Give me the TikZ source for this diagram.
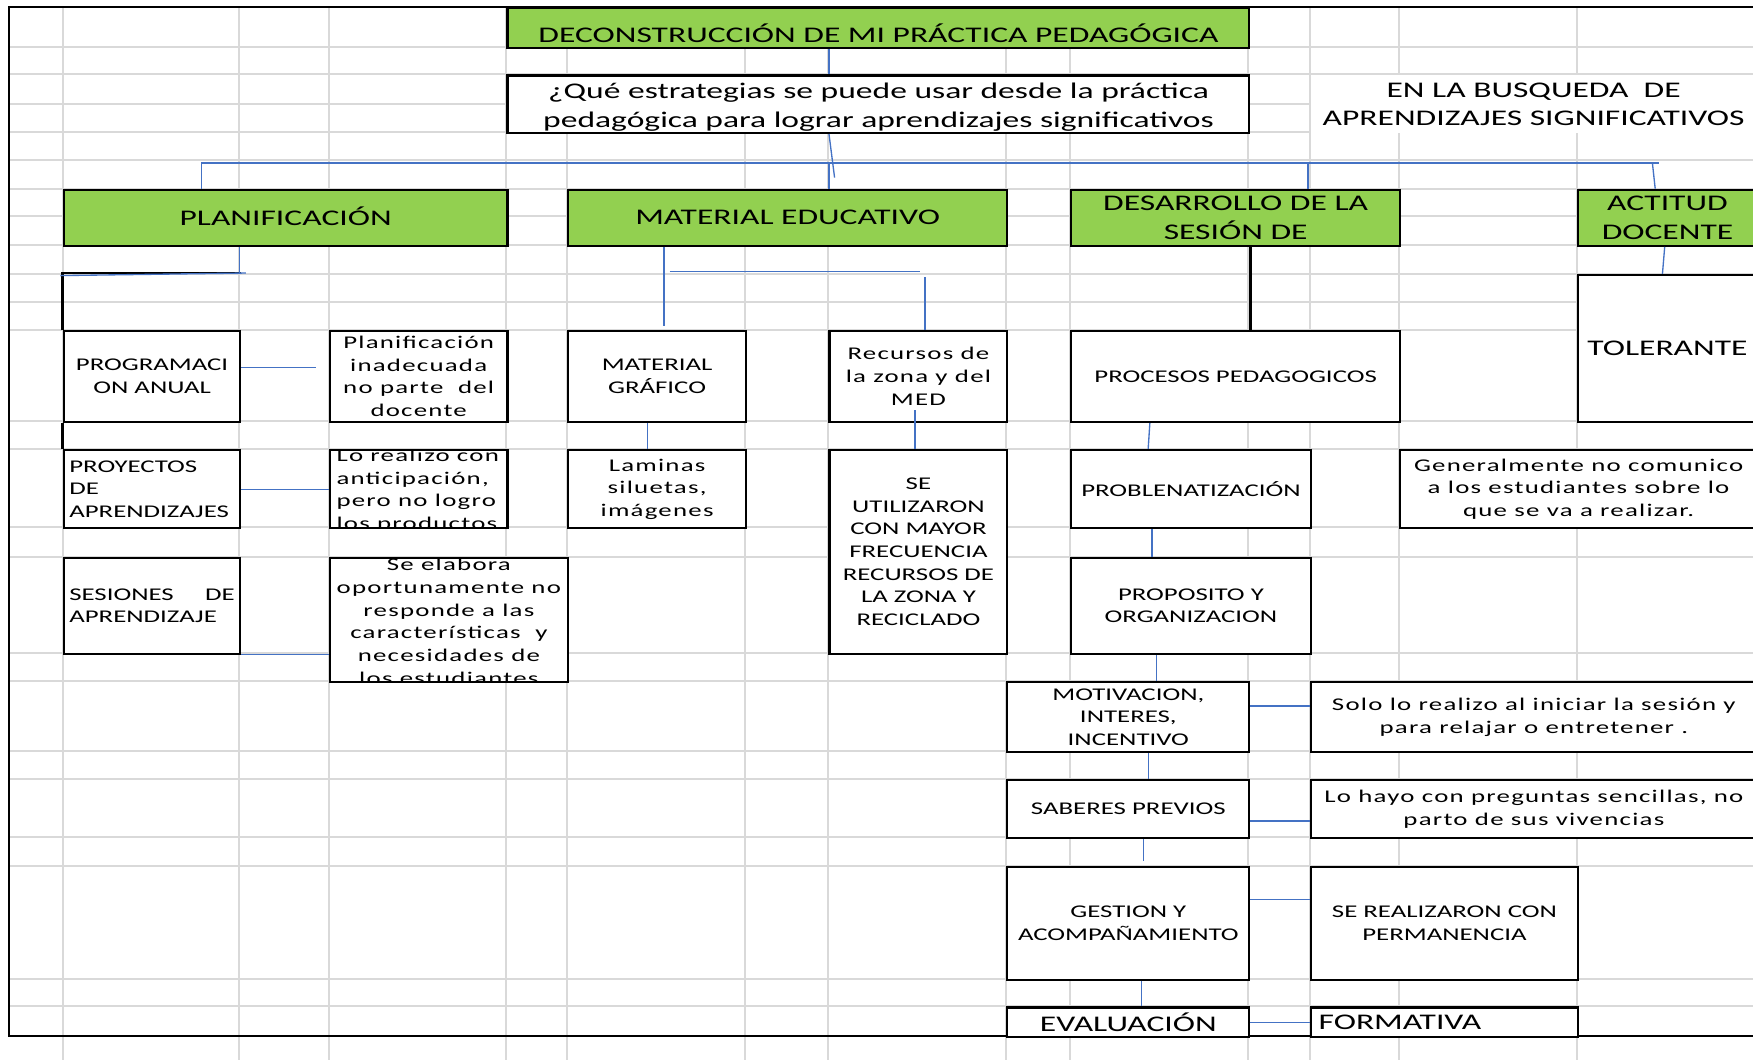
\documentclass[tikz,border=0pt]{standalone}
\usepackage{fontspec}
\setmainfont{Carlito}[FakeStretch=1.5]
\newfontfamily\spfont{Carlito}[FakeStretch=1.5,LetterSpace=7]
\newcommand\bigtxt{\fontsize{20}{25.5}\selectfont}
\newcommand\smalltxt{\fontsize{16}{20.3}\selectfont}
\definecolor{headgreen}{HTML}{92D050}
\definecolor{linkblue}{HTML}{4472C4}
\definecolor{gridgray}{HTML}{D9D9D9}

\begin{document}
\begin{tikzpicture}[x=1pt,y=-1pt,
  cell/.style={draw,line width=2pt,fill=white,inner sep=0pt,align=center,anchor=north west,font=\smalltxt},
  head/.style={cell,fill=headgreen,font=\bigtxt},
  spaced/.style={font=\spfont\smalltxt},
  cliptext/.style={spaced,draw=none,fill=none,inner sep=0pt,minimum width=0pt,minimum height=0pt},
  link/.style={draw=linkblue,line width=1.2pt},
  border/.style={line width=2pt},
  gridline/.style={draw=gridgray,line width=1.8pt}]
\useasboundingbox (0,0) rectangle (1568,948);
\clip (0,0) rectangle (1568,948);
% hoja de calculo
\foreach \y in {41.7,66.5,92.8,117.9,143,168.7,193.5,218.9,244.9,270,294.8,376.4,401.5,471.6,498.2,583.7,609.1,671.7,696.8,748.5,774.2,875.4,900.2}
  \draw[gridline] (8,\y) -- (1568,\y);
\foreach \x in {56,214,294,453,507,666.5,741,900,957,1116.5,1171.5,1251.5,1410.5}
  \draw[gridline] (\x,6) -- (\x,948);
\draw[border] (1580,6) -- (8,6) -- (8,926.5) -- (1580,926.5);

\node[head,minimum width=663.5pt,minimum height=35.7pt,text height=26pt,text depth=0pt] (title) at (453,6) {DECONSTRUCCIÓN DE MI PRÁCTICA PEDAGÓGICA};
\node[cell,font=\bigtxt,minimum width=663.5pt,minimum height=51.4pt,text height=45pt] (quest) at (453,66.5) {¿Qué estrategias se puede usar desde la práctica\\pedagógica para lograr aprendizajes significativos};
\node[cell,draw=none,font=\bigtxt,minimum width=398.5pt,minimum height=51.4pt] (search) at (1171.5,66.5) {EN LA BUSQUEDA \ DE\\APRENDIZAJES SIGNIFICATIVOS};

\node[head,minimum width=397pt,minimum height=50.2pt,text height=13pt,text depth=0pt] (plan) at (56,168.7) {PLANIFICACIÓN};
\node[head,minimum width=393pt,minimum height=50.2pt] (mat) at (507,168.7) {MATERIAL EDUCATIVO};
\node[head,minimum width=294.5pt,minimum height=50.2pt] (ses) at (957,168.7) {DESARROLLO DE LA\\SESIÓN DE};
\node[head,minimum width=160pt,minimum height=50.2pt] (act) at (1410.5,168.7) {ACTITUD\\DOCENTE};

% planificacion
\node[cell,minimum width=158pt,minimum height=81.6pt] (prog) at (56,294.8) {PROGRAMACI\\ON ANUAL};
\node[cell,spaced,minimum width=159pt,minimum height=81.6pt] (planif) at (294,294.8) {Planificación\\inadecuada\\no parte \ del\\docente};
\node[cell,minimum width=158pt,minimum height=70.1pt,align=left,text width=148pt,inner xsep=5pt] (proy) at (56,401.5) {PROYECTOS\\DE\\APRENDIZAJES};
\node[cell,minimum width=159pt,minimum height=70.1pt,
  path picture={\node[cliptext,align=left,anchor=west] at ([xshift=5pt,yshift=-1.5pt]path picture bounding box.west) {Lo realizo con\\anticipación,\\pero no logro\\los productos};}] (loreal) at (294,401.5) {};
\node[cell,minimum width=158pt,minimum height=85.5pt,align=left,text width=148pt,inner xsep=5pt] (sesap) at (56,498.2) {SESIONES\hfill DE\\APRENDIZAJE};
\node[cell,minimum width=213pt,minimum height=110.9pt,
  path picture={\node[cliptext,align=center,anchor=center] at ([yshift=-1.25pt]path picture bounding box.center) {Se elabora\\oportunamente no\\responde a las\\características \ y\\necesidades de\\los estudiantes};}] (selab) at (294,498.2) {};

% material
\node[cell,minimum width=159.5pt,minimum height=81.6pt] (mgraf) at (507,294.8) {MATERIAL\\GRÁFICO};
\node[cell,spaced,minimum width=159pt,minimum height=81.6pt] (recur) at (741,294.8) {Recursos de\\la zona y del\\MED};
\node[cell,spaced,minimum width=159.5pt,minimum height=70.1pt] (lamin) at (507,401.5) {Laminas\\siluetas,\\imágenes};
\node[cell,minimum width=159pt,minimum height=182.2pt] (seut) at (741,401.5) {SE\\UTILIZARON\\CON MAYOR\\FRECUENCIA\\RECURSOS DE\\LA ZONA Y\\RECICLADO};

% sesion
\node[cell,minimum width=294.5pt,minimum height=81.6pt] (proc) at (957,294.8) {PROCESOS PEDAGOGICOS};
\node[cell,minimum width=214.5pt,minimum height=70.1pt] (probl) at (957,401.5) {PROBLENATIZACIÓN};
\node[cell,minimum width=214.5pt,minimum height=85.5pt] (prop) at (957,498.2) {PROPOSITO Y\\ORGANIZACION};
\node[cell,minimum width=216.5pt,minimum height=62.6pt] (motiv) at (900,609.1) {MOTIVACION,\\INTERES,\\INCENTIVO};
\node[cell,minimum width=216.5pt,minimum height=51.7pt] (sab) at (900,696.8) {SABERES PREVIOS};
\node[cell,minimum width=216.5pt,minimum height=101.2pt] (gest) at (900,774.2) {GESTION Y\\ACOMPAÑAMIENTO};
\node[cell,font=\bigtxt,minimum width=216.5pt,minimum height=26.3pt] (eval) at (900,900.2) {EVALUACIÓN};
\node[cell,spaced,minimum width=399pt,minimum height=62.6pt] (solo) at (1171.5,609.1) {Solo lo realizo al iniciar la sesión y\\para relajar o entretener .};
\node[cell,spaced,minimum width=399pt,minimum height=51.7pt] (hayo) at (1171.5,696.8) {Lo hayo con preguntas sencillas, no\\parto de sus vivencias};
\node[cell,minimum width=239pt,minimum height=101.2pt] (perm) at (1171.5,774.2) {SE REALIZARON CON\\PERMANENCIA};
\node[cell,font=\bigtxt,minimum width=239pt,minimum height=26.3pt,align=left,text width=225pt,inner xsep=7pt] (form) at (1171.5,900.2) {FORMATIVA};

% actitud
\node[cell,font=\bigtxt,minimum width=160pt,minimum height=131.5pt] (tol) at (1410.5,244.9) {TOLERANTE};
\node[cell,spaced,minimum width=319pt,minimum height=70.1pt] (gen) at (1251.5,401.5) {Generalmente no comunico\\a los estudiantes sobre lo\\que se va a realizar.};

% conectores
\coordinate (b1) at (180,145.7);
\coordinate (b2) at (741.5,145.7);
\coordinate (b3) at (1170,145.7);
\coordinate (b4) at (1478,145.7);
\coordinate (b5) at (1483.5,145.7);
\draw[link] (title.south -| b2) -- (quest.north -| b2);
\draw[link] (quest.south -| b2) -- ++(5,39);
\draw[link] (b1) -- (b5);
\draw[link] (b1) -- (b1 |- plan.north);
\draw[link] (b2) -- (b2 |- mat.north);
\draw[link] (b3) -- (b3 |- ses.north);
\draw[link] (b4) -- ([xshift=-11pt]act.north);

\coordinate (p0) at (54,246.5);
\coordinate (p1) at (214,244);
\coordinate (p2) at (220,244.2);
\draw[border] (prog.north west) |- (p1 -| prog.east);
\draw[border] (prog.south west) -- (proy.north west);
\draw[link] (plan.south -| p1) -- (p1);
\draw[link] (p0) -- (p2);
\draw[link] ([yshift=8pt]prog.east) -- ([xshift=-11pt,yshift=8pt]planif.west);
\draw[link] (proy.east) -- (loreal.west);
\draw[link] (sesap.south east) -- (sesap.south east -| selab.west);

\coordinate (m1) at (594,291.7);
\coordinate (m2) at (599,242.7);
\coordinate (m3) at (822.5,242.7);
\coordinate (m4) at (827.5,247.9);
\draw[link] (mat.south -| m1) -- (m1);
\draw[link] (m2) -- (m3);
\draw[link] (m4) -- (m4 |- recur.north);
\draw[link] ([xshift=-8.75pt]mgraf.south) -- ([xshift=-8.75pt]lamin.north);
\draw[link] ([xshift=-3pt,yshift=11.6pt]recur.south) -- ([xshift=-3pt]seut.north);

\draw[border] (ses.south -| motiv.east) -- (proc.north -| motiv.east);
\draw[link] ([xshift=-76.75pt]proc.south) -- ([xshift=-38.25pt]probl.north);
\draw[link] ([xshift=-34.75pt]probl.south) -- ([xshift=-34.75pt]prop.north);
\draw[link] ([xshift=-30.75pt]prop.south) -- ([xshift=25.25pt]motiv.north);
\draw[link] ([yshift=10pt]motiv.east) -- ([yshift=10pt]solo.west);
\draw[link] ([xshift=17.75pt]motiv.south) -- ([xshift=17.75pt]sab.north);
\draw[link] ([yshift=-10.75pt]sab.east) -- ([yshift=-10.75pt]hayo.west);
\draw[link] ([xshift=13.75pt]sab.south) -- ([xshift=13.75pt,yshift=4pt]gest.north);
\draw[link] ([yshift=21.3pt]gest.east) -- ([yshift=21.3pt]perm.west);
\draw[link] ([xshift=11.75pt]gest.south) -- ([xshift=11.75pt]eval.north);
\draw[link] (eval.east) -- (form.west);
\draw[link] ([xshift=-2.5pt]act.south) -- ([xshift=-4.5pt]tol.north);
\end{tikzpicture}
\end{document}
